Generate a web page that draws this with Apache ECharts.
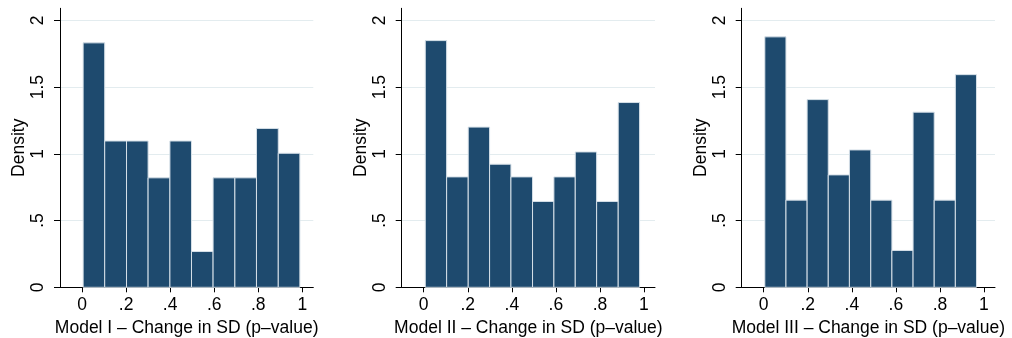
<!DOCTYPE html>
<html>
<head>
<meta charset="utf-8">
<script src="https://cdn.jsdelivr.net/npm/echarts@6/dist/echarts.min.js"></script>
<style>
html, body { margin: 0; padding: 0; background: #fff; }
#chart { width: 1012px; height: 338px; }
</style>
</head>
<body>
<div id="chart"></div>
<script>
// bin edges (p-value) and densities
var edgesI   = [0.005, 0.103, 0.202, 0.300, 0.399, 0.497, 0.595, 0.694, 0.792, 0.891, 0.989];
var densityI = [1.831, 1.096, 1.096, 0.820, 1.096, 0.268, 0.820, 0.820, 1.190, 1.004];

var edgesII   = [0.007, 0.104, 0.202, 0.299, 0.396, 0.494, 0.591, 0.688, 0.785, 0.883, 0.980];
var densityII = [1.848, 0.827, 1.200, 0.922, 0.827, 0.643, 0.827, 1.014, 0.643, 1.384];

var edgesIII   = [0.005, 0.101, 0.197, 0.293, 0.389, 0.486, 0.582, 0.678, 0.774, 0.870, 0.966];
var densityIII = [1.876, 0.653, 1.406, 0.842, 1.029, 0.653, 0.276, 1.312, 0.653, 1.593];

var xTicks = [0, 0.2, 0.4, 0.6, 0.8, 1];
var xTickLabels = ['0', '.2', '.4', '.6', '.8', '1'];
var yTicks = [0, 0.5, 1, 1.5, 2];
var yTickLabels = ['0', '.5', '1', '1.5', '2'];

var xTitles = [
  'Model I \u2013 Change in SD (p\u2013value)',
  'Model II \u2013 Change in SD (p\u2013value)',
  'Model III \u2013 Change in SD (p\u2013value)'
];

var panels = [
  { edges: edgesI, density: densityI, left: 60 },
  { edges: edgesII, density: densityII, left: 401.7 },
  { edges: edgesIII, density: densityIII, left: 741.7 }
];

var font = 'Liberation Sans, Arial, sans-serif';
var fs = 17.5;
var barColor = '#1e4a6e';

function renderBar(params, api) {
  var p0 = api.coord([api.value(0), api.value(2)]);
  var p1 = api.coord([api.value(1), 0]);
  return {
    type: 'rect',
    shape: { x: p0[0], y: p0[1], width: p1[0] - p0[0], height: p1[1] - p0[1] },
    style: { fill: barColor, stroke: '#d6e0e8', lineWidth: 1 }
  };
}

var grid = [], xAxis = [], yAxis = [], series = [];

panels.forEach(function (p, k) {
  grid.push({ left: p.left, width: 253.3, top: 8.3, bottom: 50.7, containLabel: false, outerBoundsMode: 'none' });

  xAxis.push({
    type: 'value',
    gridIndex: k,
    min: -0.1,
    max: 1.05,
    name: xTitles[k],
    nameLocation: 'middle',
    nameGap: 26,
    nameTextStyle: { color: '#000', fontSize: fs, fontFamily: font },
    axisLine: { show: true, onZero: false, lineStyle: { color: '#000', width: 1 } },
    axisTick: { show: true, length: 5, customValues: xTicks, lineStyle: { color: '#000' } },
    axisLabel: {
      customValues: xTicks,
      margin: 9,
      color: '#000',
      fontSize: fs,
      fontFamily: font,
      formatter: function (v) { return xTickLabels[xTicks.indexOf(v)]; }
    },
    splitLine: { show: false }
  });

  yAxis.push({
    type: 'value',
    gridIndex: k,
    min: 0,
    max: 2.09,
    name: 'Density',
    nameLocation: 'middle',
    nameGap: 31,
    nameRotate: 90,
    nameTextStyle: { color: '#000', fontSize: fs, fontFamily: font },
    axisLine: { show: true, onZero: false, lineStyle: { color: '#000', width: 1 } },
    axisTick: { show: true, length: 6, customValues: yTicks, lineStyle: { color: '#000' } },
    axisLabel: {
      customValues: yTicks,
      rotate: 90,
      margin: 13,
      color: '#000',
      fontSize: fs,
      fontFamily: font,
      formatter: function (v) { return yTickLabels[yTicks.indexOf(v)]; }
    },
    splitLine: { show: true, lineStyle: { color: '#e3ecef', width: 1 } }
  });

  var data = [];
  for (var i = 0; i < p.density.length; i++) {
    data.push([p.edges[i], p.edges[i + 1], p.density[i]]);
  }
  series.push({
    type: 'custom',
    xAxisIndex: k,
    yAxisIndex: k,
    renderItem: renderBar,
    encode: { x: [0, 1], y: 2 },
    data: data,
    silent: true
  });
});

var chart = echarts.init(document.getElementById('chart'), null, { renderer: 'canvas' });
chart.setOption({
  backgroundColor: '#fff',
  animation: false,
  grid: grid,
  xAxis: xAxis,
  yAxis: yAxis,
  series: series
});
</script>
</body>
</html>
